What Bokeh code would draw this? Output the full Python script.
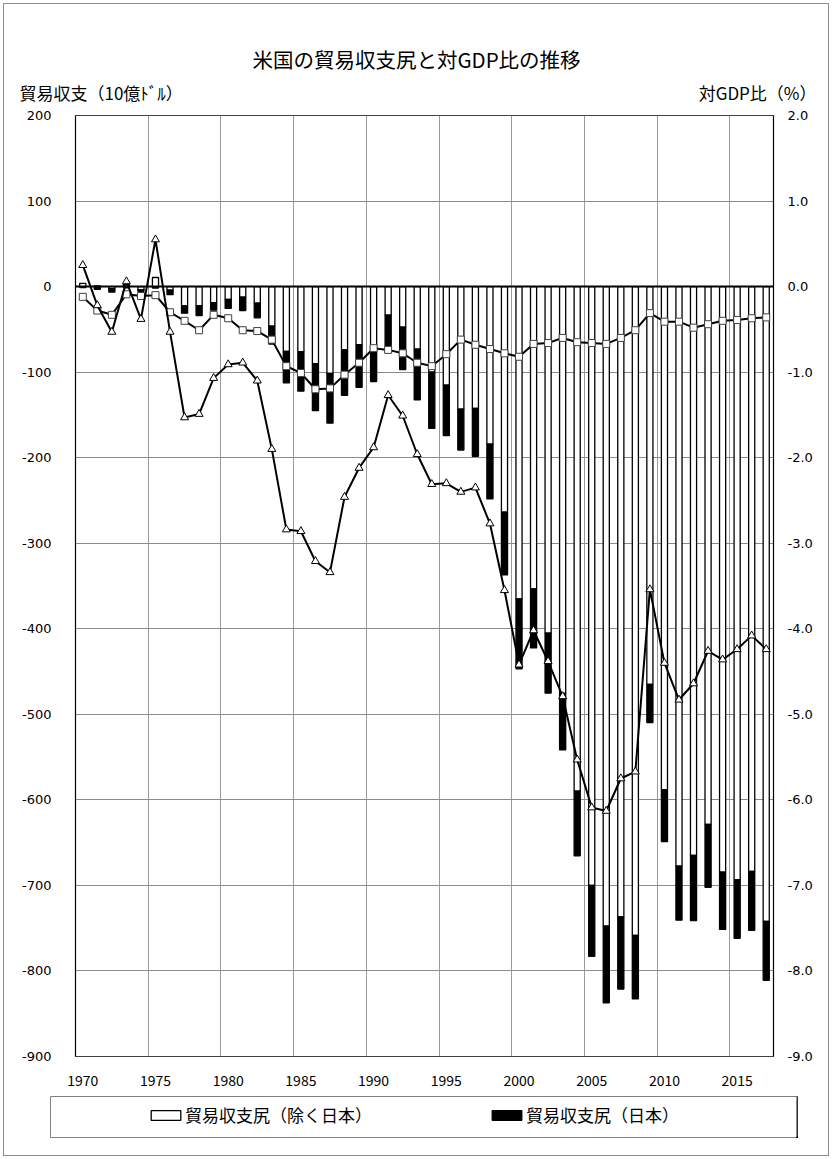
from bokeh.plotting import figure
from bokeh.layouts import column
from bokeh.models import (Range1d, LinearAxis, FixedTicker, NumeralTickFormatter,
                          Span, Label, Legend, LegendItem, ColumnDataSource)
from bokeh.embed import file_html
from bokeh.resources import INLINE

# ---------------- data ----------------
years = list(range(1970, 2018))
# US trade balance (bn $)
trade_balance = [2.6, -2.3, -6.4, 0.9, -5.5, 8.9, -9.5, -31.1, -33.9, -27.6,
                 -25.5, -28.0, -36.5, -67.1, -112.5, -122.2, -145.1, -159.6, -127.0, -117.7,
                 -111.0, -76.9, -96.9, -132.5, -165.8, -174.2, -191.0, -198.4, -248.2, -337.1,
                 -446.8, -422.4, -475.2, -541.6, -665.4, -782.8, -837.3, -821.2, -832.5, -509.7,
                 -648.7, -740.6, -741.2, -702.2, -751.5, -761.9, -752.5, -811.0]
# trade balance with Japan (bn $)
japan_balance = [-1.2, -3.2, -4.1, -1.4, -1.7, -1.7, -5.4, -8.5, -11.6, -8.7,
                 -10.4, -15.8, -17.0, -21.0, -36.8, -46.2, -55.0, -58.0, -53.0, -49.7,
                 -41.1, -43.4, -49.6, -59.4, -65.7, -59.1, -47.6, -56.1, -64.0, -73.4,
                 -81.6, -69.0, -70.1, -66.0, -75.6, -82.8, -89.7, -84.3, -74.1, -44.7,
                 -60.6, -63.2, -76.3, -73.4, -67.0, -68.6, -68.9, -69.0]
# trade balance / GDP (%)
balance_gdp_pct = [0.25, -0.22, -0.53, 0.06, -0.38, 0.55, -0.53, -1.53, -1.49, -1.07,
                   -0.91, -0.89, -1.10, -1.90, -2.84, -2.86, -3.21, -3.34, -2.46, -2.12,
                   -1.88, -1.27, -1.51, -1.96, -2.31, -2.30, -2.40, -2.35, -2.77, -3.55,
                   -4.42, -4.02, -4.38, -4.79, -5.53, -6.09, -6.13, -5.75, -5.67, -3.54,
                   -4.40, -4.83, -4.64, -4.26, -4.36, -4.24, -4.08, -4.24]
# trade balance with Japan / GDP (%)
japan_gdp_pct = [-0.12, -0.28, -0.33, -0.09, -0.11, -0.10, -0.30, -0.40, -0.51, -0.33,
                 -0.37, -0.51, -0.52, -0.62, -0.93, -1.01, -1.20, -1.19, -1.03, -0.89,
                 -0.72, -0.74, -0.78, -0.89, -0.93, -0.79, -0.62, -0.68, -0.73, -0.78,
                 -0.82, -0.67, -0.66, -0.60, -0.65, -0.66, -0.67, -0.60, -0.51, -0.31,
                 -0.41, -0.41, -0.48, -0.44, -0.40, -0.39, -0.37, -0.36]

x_tick_years = [1970, 1975, 1980, 1985, 1990, 1995, 2000, 2005, 2010, 2015]
left_ticks = list(range(-900, 201, 100))
right_ticks = list(range(-9, 3))

title_text = "米国の貿易収支尻と対GDP比の推移"
left_title = "貿易収支（10億ﾄﾞﾙ）"
right_title = "対GDP比（%）"
legend_excl = "貿易収支尻（除く日本）"
legend_japan = "貿易収支尻（日本）"

NUM_FONT = "DejaVu Sans"
JP_FONT = "Noto Sans CJK JP"
W = 832
HEAD_H = 105
MAIN_H = 991
LEG_H = 1159 - HEAD_H - MAIN_H

# ---------------- stacking (Excel style: pos/neg stacked separately) ----------------
excl_japan = [t - j for t, j in zip(trade_balance, japan_balance)]
w_bottom = [0.0] * len(years)
w_top = excl_japan
b_bottom = [e if (e < 0 and j < 0) or (e > 0 and j > 0) else 0.0
            for e, j in zip(excl_japan, japan_balance)]
b_top = [b + j for b, j in zip(b_bottom, japan_balance)]

src = ColumnDataSource(dict(x=years, wb=w_bottom, wt=w_top, bb=b_bottom, bt=b_top,
                            pct=balance_gdp_pct, jp=japan_gdp_pct))

# ---------------- header (titles) ----------------
head = figure(width=W, height=HEAD_H, x_range=Range1d(0, W), y_range=Range1d(HEAD_H, 0),
              x_axis_type=None, y_axis_type=None, output_backend="svg",
              toolbar_location=None, min_border=0, frame_align=False)
head.outline_line_color = None
head.background_fill_alpha = 0
head.border_fill_alpha = 0
head.xgrid.visible = False
head.ygrid.visible = False
head.add_layout(Label(x=416, y=58, text=title_text, text_font=JP_FONT,
                      text_font_size="20.5px", text_align="center", text_baseline="middle",
                      text_color="black"))
head.add_layout(Label(x=19, y=92, text=left_title, text_font=JP_FONT,
                      text_font_size="17px", text_align="left", text_baseline="middle",
                      text_color="black"))
head.add_layout(Label(x=816, y=92, text=right_title, text_font=JP_FONT,
                      text_font_size="17px", text_align="right", text_baseline="middle",
                      text_color="black"))

# ---------------- main chart ----------------
p = figure(width=W, height=MAIN_H, x_range=Range1d(1969.5, 2017.5),
           y_range=Range1d(-900, 200), output_backend="svg", toolbar_location=None,
           min_border_left=75, min_border_right=59, min_border_top=10,
           min_border_bottom=40, frame_align=False)
p.extra_y_ranges = {"pct": Range1d(-9, 2)}
p.outline_line_color = "#404040"
p.outline_line_width = 1
p.background_fill_color = "white"
p.border_fill_alpha = 0

p.yaxis.ticker = FixedTicker(ticks=left_ticks)
p.yaxis.formatter = NumeralTickFormatter(format="0")
p.xaxis.ticker = FixedTicker(ticks=x_tick_years)
for ax in (p.xaxis[0], p.yaxis[0]):
    ax.major_tick_out = 0
    ax.major_tick_in = 0
    ax.minor_tick_out = 0
    ax.minor_tick_in = 0
    ax.axis_line_color = "black"
    ax.axis_line_width = 1.2
    ax.major_label_text_color = "black"
p.yaxis.major_label_text_font = NUM_FONT
p.yaxis.major_label_text_font_size = "13px"
p.yaxis.major_label_standoff = 24
p.xaxis.major_label_text_font = JP_FONT
p.xaxis.major_label_text_font_size = "14px"
p.xaxis.major_label_standoff = 18
p.xaxis.axis_line_color = "#404040"

right_axis = LinearAxis(y_range_name="pct", ticker=FixedTicker(ticks=right_ticks),
                        formatter=NumeralTickFormatter(format="0.0"))
right_axis.major_tick_out = 0
right_axis.major_tick_in = 0
right_axis.minor_tick_out = 0
right_axis.minor_tick_in = 0
right_axis.axis_line_color = "black"
right_axis.axis_line_width = 1.2
right_axis.major_label_text_font = NUM_FONT
right_axis.major_label_text_font_size = "13px"
right_axis.major_label_text_color = "black"
right_axis.major_label_standoff = 14
p.add_layout(right_axis, "right")

p.xgrid.ticker = FixedTicker(ticks=[y - 0.5 for y in x_tick_years[1:]])
p.xgrid.grid_line_color = "#9a9a9a"
p.xgrid.grid_line_width = 1
p.ygrid.grid_line_color = "#8a8a8a"
p.ygrid.grid_line_width = 1

BAR_W = 0.42
p.vbar(x="x", bottom="wb", top="wt", width=BAR_W, source=src,
       fill_color="white", line_color="black", line_width=1.3)
p.vbar(x="x", bottom="bb", top="bt", width=BAR_W, source=src,
       fill_color="black", line_color="black", line_width=1.3)

p.add_layout(Span(location=0, dimension="width", line_color="black", line_width=2))

p.line(x="x", y="jp", source=src, y_range_name="pct", line_color="black", line_width=2)
p.scatter(x="x", y="jp", source=src, y_range_name="pct", marker="square", size=7,
          fill_color="white", line_color="#404040", line_width=1)
p.line(x="x", y="pct", source=src, y_range_name="pct", line_color="black", line_width=2)
p.scatter(x="x", y="pct", source=src, y_range_name="pct", marker="triangle", size=8,
          fill_color="white", line_color="black", line_width=1)

# ---------------- legend strip (its frame is the legend box) ----------------
leg = figure(width=W, height=LEG_H, x_range=Range1d(0, 1), y_range=Range1d(0, 1),
             x_axis_type=None, y_axis_type=None, output_backend="svg",
             toolbar_location=None, min_border_left=50, min_border_right=35,
             min_border_top=0, min_border_bottom=LEG_H - 41, frame_align=False)
leg.xgrid.visible = False
leg.ygrid.visible = False
leg.outline_line_color = "#808080"
leg.outline_line_width = 1
leg.background_fill_color = "white"
leg.border_fill_alpha = 0
# legend swatches reuse the bar styles (source rows lie outside the legend strip's ranges)
lw = leg.vbar(x="x", bottom="wb", top="wt", width=BAR_W, source=src,
              fill_color="white", line_color="black", line_width=1.3)
lb = leg.vbar(x="x", bottom="bb", top="bt", width=BAR_W, source=src,
              fill_color="black", line_color="black", line_width=1.3)
for rend, lab, lx in ((lw, legend_excl, 97), (lb, legend_japan, 438)):
    lg = Legend(items=[LegendItem(label=lab, renderers=[rend])], location=(lx, 10),
                padding=0, spacing=0, margin=0, glyph_width=37, glyph_height=12,
                label_standoff=1, label_text_font=JP_FONT, label_text_font_size="17px",
                label_text_color="black", border_line_alpha=0, background_fill_alpha=0)
    leg.add_layout(lg)

layout = column(head, p, leg, spacing=0,
                styles={"outline": "1px solid #8c8c8c", "outline-offset": "-4px"})

open("out.html", "w").write(file_html(layout, INLINE))
